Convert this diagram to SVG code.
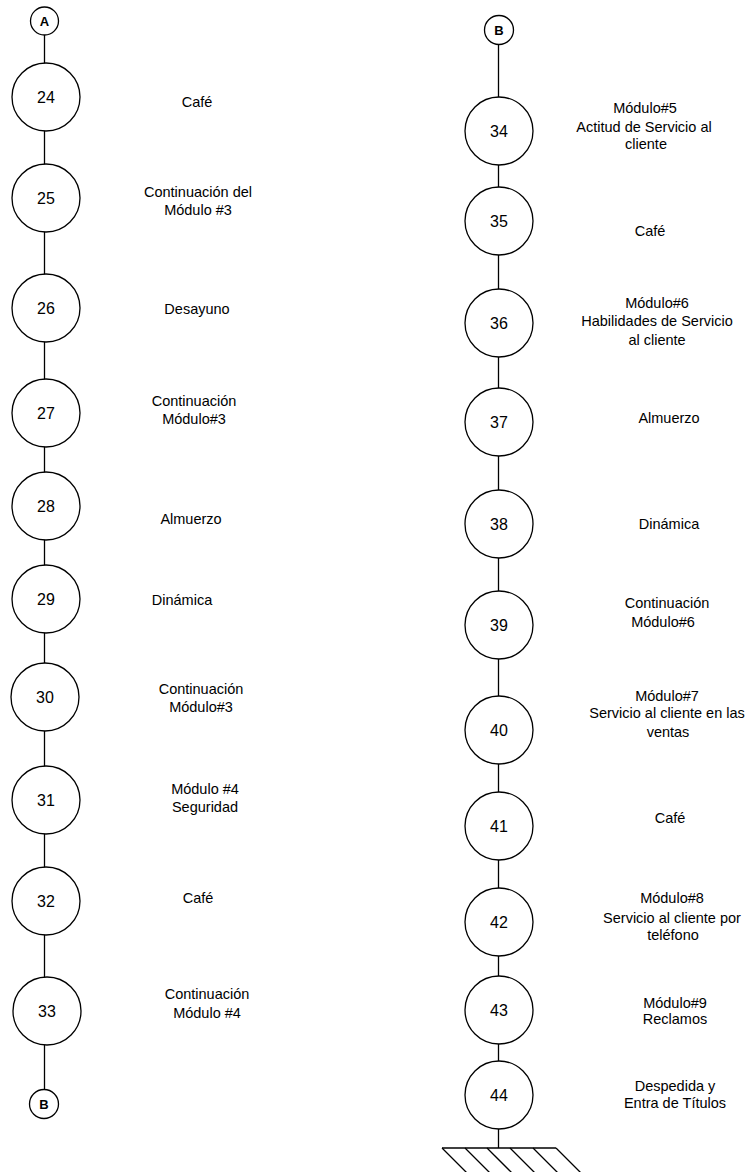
<svg xmlns="http://www.w3.org/2000/svg" width="749" height="1172" viewBox="0 0 749 1172">
<style>
.n{fill:#fff;stroke:#000;stroke-width:1.3}
.c{fill:#fff;stroke:#000;stroke-width:1.3}
.num{font-family:"Liberation Sans",Arial,sans-serif;font-size:16px;fill:#000;text-anchor:middle}
.cl{font-family:"Liberation Sans",Arial,sans-serif;font-size:13px;font-weight:bold;fill:#000;text-anchor:middle}
.lb{font-family:"Liberation Sans",Arial,sans-serif;font-size:14.5px;fill:#000;text-anchor:middle}
.ln{stroke:#000;stroke-width:1.3;fill:none}
</style>
<rect width="749" height="1172" fill="#fff"/>
<g id="connectors">
<line class="ln" x1="44.5" y1="34" x2="44.5" y2="1090"/>
<line class="ln" x1="498.5" y1="43" x2="498.5" y2="1148"/>
</g>
<g id="ground">
<line class="ln" x1="442" y1="1148" x2="556" y2="1148"/>
<line class="ln" x1="442" y1="1148" x2="472" y2="1178"/>
<line class="ln" x1="465" y1="1148" x2="495" y2="1178"/>
<line class="ln" x1="487" y1="1148" x2="517" y2="1178"/>
<line class="ln" x1="510" y1="1148" x2="540" y2="1178"/>
<line class="ln" x1="533" y1="1148" x2="563" y2="1178"/>
<line class="ln" x1="556" y1="1148" x2="586" y2="1178"/>
</g>
<g id="connA"><circle class="c" cx="44.5" cy="21" r="14"/><text class="cl" x="44.5" y="25.5">A</text></g>
<g id="connB1"><circle class="c" cx="44" cy="1104" r="14.5"/><text class="cl" x="44" y="1108.5">B</text></g>
<g id="connB2"><circle class="c" cx="499" cy="30" r="14.5"/><text class="cl" x="499" y="34.5">B</text></g>

<g id="n24"><circle class="n" cx="46" cy="97" r="34"/><text class="num" x="46" y="103">24</text><text class="lb" x="197" y="107">Café</text></g>
<g id="n25"><circle class="n" cx="46" cy="198" r="34"/><text class="num" x="46" y="204">25</text><text class="lb" x="198" y="197">Continuación del</text><text class="lb" x="198" y="215">Módulo #3</text></g>
<g id="n26"><circle class="n" cx="46" cy="308" r="34"/><text class="num" x="46" y="314">26</text><text class="lb" x="197" y="314">Desayuno</text></g>
<g id="n27"><circle class="n" cx="46" cy="413" r="34"/><text class="num" x="46" y="419">27</text><text class="lb" x="194" y="406">Continuación</text><text class="lb" x="194" y="424">Módulo#3</text></g>
<g id="n28"><circle class="n" cx="46" cy="506" r="34"/><text class="num" x="46" y="512">28</text><text class="lb" x="191" y="524">Almuerzo</text></g>
<g id="n29"><circle class="n" cx="46" cy="599" r="34"/><text class="num" x="46" y="605">29</text><text class="lb" x="182" y="605">Dinámica</text></g>
<g id="n30"><circle class="n" cx="45" cy="697" r="34"/><text class="num" x="45" y="703">30</text><text class="lb" x="201" y="694">Continuación</text><text class="lb" x="201" y="712">Módulo#3</text></g>
<g id="n31"><circle class="n" cx="46" cy="800" r="34"/><text class="num" x="46" y="806">31</text><text class="lb" x="205" y="794">Módulo #4</text><text class="lb" x="205" y="812">Seguridad</text></g>
<g id="n32"><circle class="n" cx="46" cy="901" r="34"/><text class="num" x="46" y="907">32</text><text class="lb" x="198" y="903">Café</text></g>
<g id="n33"><circle class="n" cx="47" cy="1011" r="34"/><text class="num" x="47" y="1017">33</text><text class="lb" x="207" y="999">Continuación</text><text class="lb" x="207" y="1018">Módulo #4</text></g>

<g id="n34"><circle class="n" cx="499" cy="131" r="34"/><text class="num" x="499" y="137">34</text><text class="lb" x="645" y="113">Módulo#5</text><text class="lb" x="644" y="132">Actitud de Servicio al</text><text class="lb" x="646" y="149">cliente</text></g>
<g id="n35"><circle class="n" cx="499" cy="221" r="34"/><text class="num" x="499" y="227">35</text><text class="lb" x="650" y="236">Café</text></g>
<g id="n36"><circle class="n" cx="499" cy="323" r="34"/><text class="num" x="499" y="329">36</text><text class="lb" x="657" y="308">Módulo#6</text><text class="lb" x="657" y="326">Habilidades de Servicio</text><text class="lb" x="657" y="345">al cliente</text></g>
<g id="n37"><circle class="n" cx="499" cy="422" r="34"/><text class="num" x="499" y="428">37</text><text class="lb" x="669" y="423">Almuerzo</text></g>
<g id="n38"><circle class="n" cx="499" cy="524" r="34"/><text class="num" x="499" y="530">38</text><text class="lb" x="669" y="529">Dinámica</text></g>
<g id="n39"><circle class="n" cx="499" cy="625" r="34"/><text class="num" x="499" y="631">39</text><text class="lb" x="667" y="608">Continuación</text><text class="lb" x="663" y="627">Módulo#6</text></g>
<g id="n40"><circle class="n" cx="499" cy="730" r="34"/><text class="num" x="499" y="736">40</text><text class="lb" x="667" y="701">Módulo#7</text><text class="lb" x="667" y="718">Servicio al cliente en las</text><text class="lb" x="668" y="737">ventas</text></g>
<g id="n41"><circle class="n" cx="499" cy="826" r="34"/><text class="num" x="499" y="832">41</text><text class="lb" x="670" y="823">Café</text></g>
<g id="n42"><circle class="n" cx="499" cy="922" r="34"/><text class="num" x="499" y="928">42</text><text class="lb" x="672" y="903">Módulo#8</text><text class="lb" x="672" y="923">Servicio al cliente por</text><text class="lb" x="673" y="940">teléfono</text></g>
<g id="n43"><circle class="n" cx="499" cy="1010" r="34"/><text class="num" x="499" y="1016">43</text><text class="lb" x="675" y="1008">Módulo#9</text><text class="lb" x="675" y="1024">Reclamos</text></g>
<g id="n44"><circle class="n" cx="499" cy="1095" r="34"/><text class="num" x="499" y="1101">44</text><text class="lb" x="675" y="1091">Despedida y</text><text class="lb" x="675" y="1108">Entra de Títulos</text></g>
</svg>
